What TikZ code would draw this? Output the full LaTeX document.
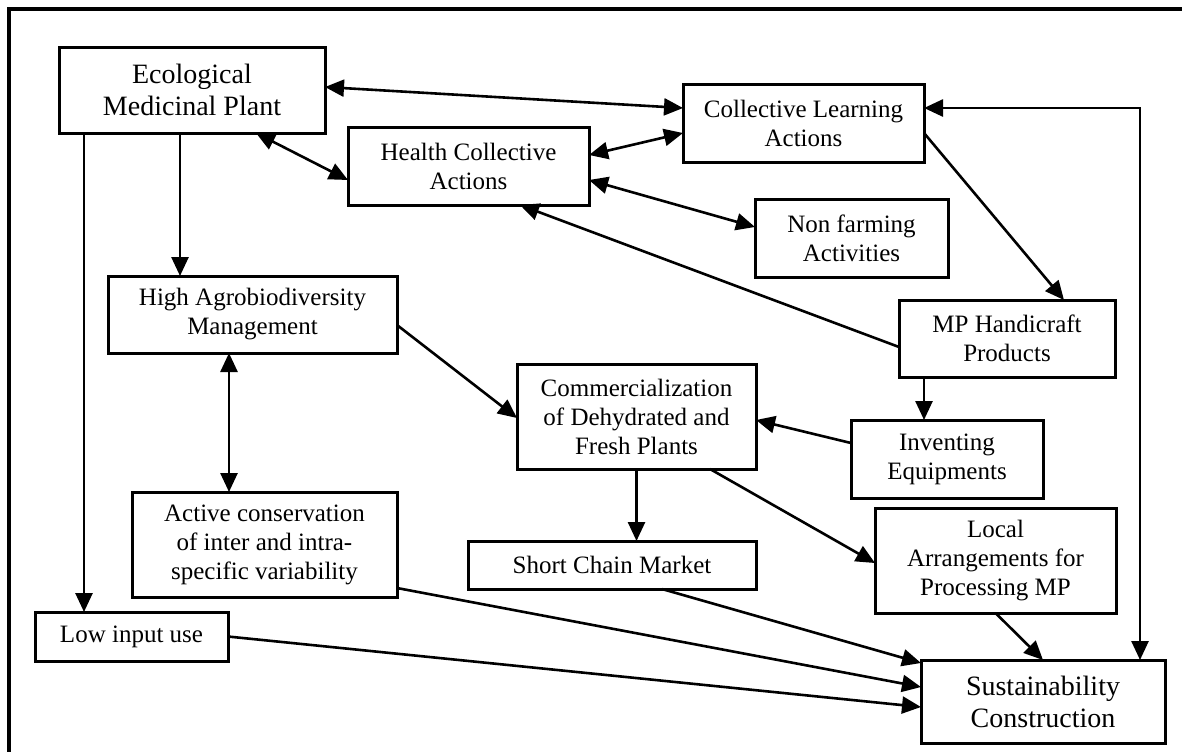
\documentclass[tikz,border=0pt]{standalone}
\usepackage{fontspec}
\setmainfont{Liberation Serif}
\usetikzlibrary{arrows.meta}
\tikzset{
  box/.style={draw, line width=1.5pt, inner sep=0pt, outer sep=0pt, align=center,
              font=\fontsize{12.5}{14.5}\selectfont},
  bigbox/.style={box, font=\fontsize{14}{16}\selectfont},
  arr/.style={line width=1.3pt, -{Triangle[length=9.5pt,width=8.5pt]}},
  arrs/.style={line width=1.3pt, {Triangle[length=9.5pt,width=8.5pt]}-{Triangle[length=9.5pt,width=8.5pt]}}
}
\begin{document}
\begin{tikzpicture}[x=0.5pt,y=-0.5pt]
\useasboundingbox (0,0) rectangle (1182,751);
\clip (0,0) rectangle (1182,751);
\draw[line width=1.6pt] (9,9) rectangle (1400,900);

\node[bigbox, minimum width=133pt, minimum height=43pt] (emp) at (192,90) {Ecological\\Medicinal Plant};
\node[box, minimum width=120.5pt, minimum height=39pt] (hca) at (468.5,166) {Health Collective\\Actions};
\node[box, minimum width=120.5pt, minimum height=39pt] (cla) at (803.5,123) {Collective Learning\\Actions};
\node[box, minimum width=96.5pt, minimum height=39pt] (nfa) at (851.5,238) {Non farming\\Activities};
\node[box, minimum width=144.5pt, minimum height=38.5pt] (ham) at (252.5,314.5) {High Agrobiodiversity\\Management};
\node[box, minimum width=132.5pt, minimum height=52.5pt] (acv) at (264.5,544.5) {Active conservation\\of inter and intra-\\specific variability};
\node[box, minimum width=96.5pt, minimum height=24.5pt] (liu) at (131.5,636.5) {Low input use};
\node[box, minimum width=119.5pt, minimum height=52.5pt] (cdf) at (636.5,416.5) {Commercialization\\of Dehydrated and\\Fresh Plants};
\node[box, minimum width=144pt, minimum height=24pt] (scm) at (612,565) {Short Chain Market};
\node[box, minimum width=108pt, minimum height=38.5pt] (mph) at (1007,338.5) {MP Handicraft\\Products};
\node[box, minimum width=96pt, minimum height=39pt] (ie) at (947,459) {Inventing\\Equipments};
\node[box, minimum width=120.5pt, minimum height=52.5pt] (lap) at (995.5,560.5) {Local\\Arrangements for\\Processing MP};
\node[bigbox, minimum width=122pt, minimum height=41.5pt] (sc) at (1043,701.5) {Sustainability\\Construction};

% connectors
\draw[arrs] ([yshift=1.5pt]emp.east) -- ([yshift=7.5pt]cla.west);
\draw[arrs] ([xshift=32pt]emp.south) -- ([yshift=-7pt]hca.west);
\draw[arrs] ([yshift=5.5pt]hca.east) -- ([yshift=-5pt]cla.west);
\draw[arrs] ([yshift=-7pt]hca.east) -- ([yshift=5.5pt]nfa.west);
\draw[arr] ([xshift=-6pt]emp.south) -- ([xshift=-6pt]emp.south |- ham.north);
\draw[arr] ([xshift=-54pt]emp.south) -- ([xshift=-54pt]emp.south |- liu.north);
\draw[arrs] ([xshift=-11.75pt]ham.south) -- ([xshift=-11.75pt]ham.south |- acv.north);
\draw[arr] ([yshift=-5.25pt]ham.east) -- ([yshift=-0.75pt]cdf.west);
\draw[arr] ([yshift=-5pt]cla.east) -- ([xshift=28.5pt]mph.north);
\draw[arr] ([yshift=-4.25pt]mph.west) -- ([xshift=25.75pt]hca.south);
\draw[arr] ([xshift=-41.5pt]mph.south) -- ([xshift=-41.5pt]mph.south |- ie.north);
\draw[arr] ([yshift=8pt]ie.west) -- ([yshift=-1.75pt]cdf.east);
\draw[arr] (cdf.south) -- (cdf.south |- scm.north);
\draw[arr] ([xshift=36.75pt]cdf.south) -- ([yshift=-1.25pt]lap.west);
\draw[arr] ([xshift=25pt]scm.south) -- ([yshift=-1.5pt]sc.north west);
\draw[arr] ([yshift=-21.75pt]acv.east) -- ([yshift=7.25pt]sc.west);
\draw[arr] (liu.east) -- ([yshift=-2.75pt]sc.west);
\draw[arr] (lap.south) -- (sc.north);
\draw[arrs] ([yshift=7.5pt]cla.east) -| ([xshift=48.5pt]sc.north);
\end{tikzpicture}
\end{document}
